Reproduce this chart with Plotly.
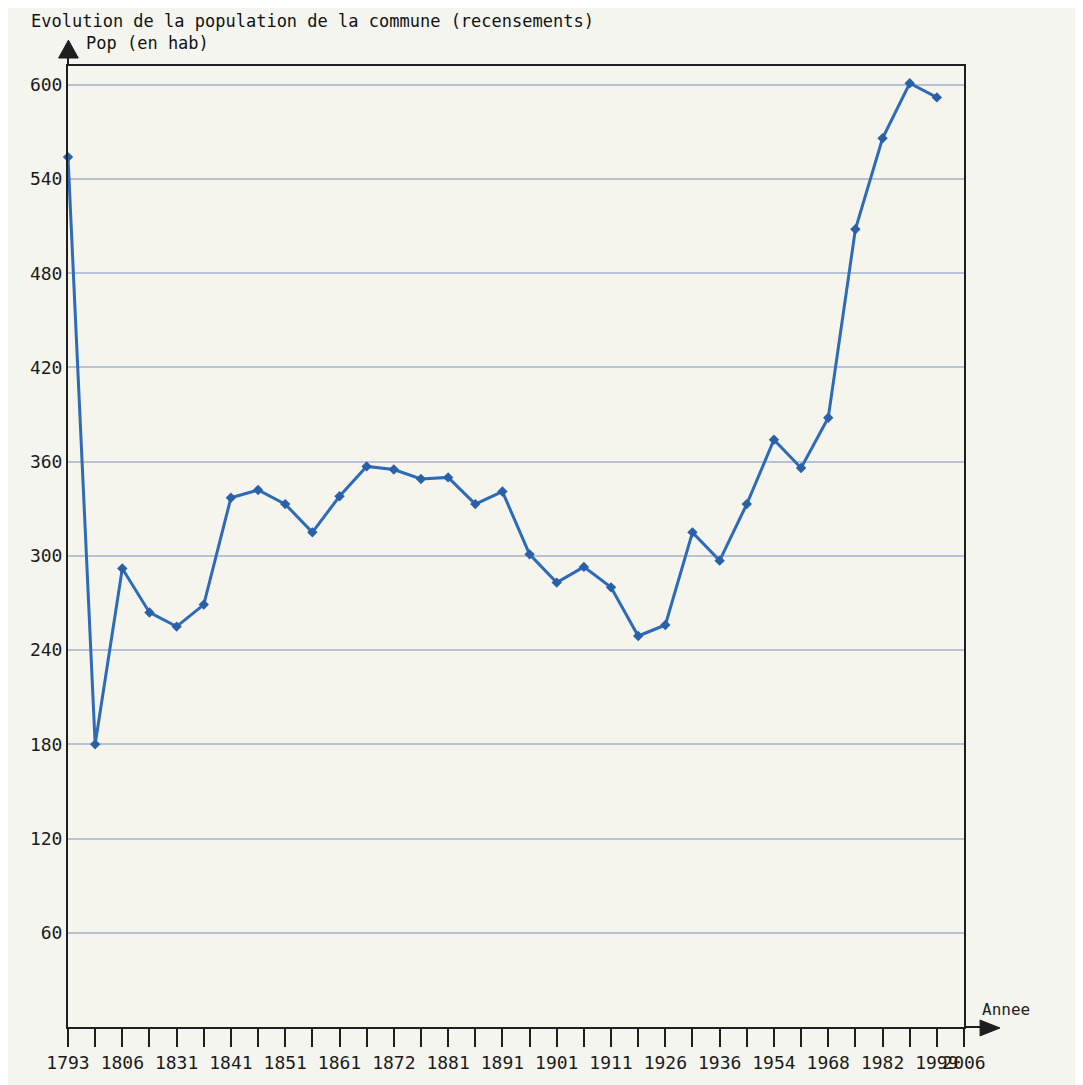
import plotly.graph_objects as go

years = ["1793", "1800", "1806", "1821", "1831", "1836", "1841", "1846", "1851", "1856",
         "1861", "1866", "1872", "1876", "1881", "1886", "1891", "1896", "1901", "1906",
         "1911", "1921", "1926", "1931", "1936", "1946", "1954", "1962", "1968", "1975",
         "1982", "1990", "1999", "2006"]
population = [554, 180, 292, 264, 255, 269, 337, 342, 333, 315,
              338, 357, 355, 349, 350, 333, 341, 301, 283, 293,
              280, 249, 256, 315, 297, 333, 374, 356, 388, 508,
              566, 601, 592, None]
y_ticks = [60, 120, 180, 240, 300, 360, 420, 480, 540, 600]

idx = list(range(len(years)))
ticktext = [y if (i % 2 == 0 or i == len(years) - 1) else "" for i, y in enumerate(years)]

FONT = "DejaVu Sans Mono"
AX = "#1e1e1e"
W, H = 1075, 1077  # page adds an 8px body margin

fig = go.Figure()
fig.add_trace(go.Scatter(
    x=idx, y=population, mode="lines+markers",
    line=dict(color="#2d6bb8", width=3),
    marker=dict(symbol="diamond", size=8, color="#2a60a8"),
    connectgaps=False, showlegend=False, cliponaxis=False,
))

fig.update_layout(
    width=W, height=H,
    margin=dict(l=60, r=119, t=58, b=52),
    paper_bgcolor="#F5F5EF", plot_bgcolor="#F5F5ED",
    font=dict(family=FONT, size=16, color="#222222"),
    title=dict(text="Evolution de la population de la commune (recensements)",
               xref="container", yref="container", x=23 / W, y=1 - 13 / H,
               xanchor="left", yanchor="middle",
               font=dict(family=FONT, size=17, color="#111111")),
)
fig.update_xaxes(
    range=[0, len(years) - 1], tickmode="array", tickvals=idx, ticktext=ticktext,
    ticks="outside", ticklen=18, tickwidth=2, tickcolor=AX,
    showline=True, linecolor=AX, linewidth=2, mirror=True,
    showgrid=False, zeroline=False, tickangle=0,
    tickfont=dict(family=FONT, size=18, color="#1a1a1a"),
)
fig.update_yaxes(
    range=[0, 612], tickmode="array", tickvals=y_ticks,
    ticks="", showline=True, linecolor=AX, linewidth=2, mirror=True,
    showgrid=True, gridcolor="#b9c2d2", gridwidth=2, zeroline=False,
    tickfont=dict(family=FONT, size=18, color="#1a1a1a"),
)

# axis extensions with arrowheads
fig.add_shape(type="line", xref="paper", yref="paper", x0=0, x1=0, y0=1, y1=1.01,
              line=dict(color=AX, width=2))
fig.add_shape(type="path", xref="paper", yref="paper",
              path="M -0.0105 1.0083 L 0.0115 1.0083 L 0.0005 1.0269 Z",
              fillcolor=AX, line=dict(color=AX, width=1))
fig.add_shape(type="line", xref="paper", yref="paper", x0=1, x1=1.02, y0=0, y1=0,
              line=dict(color=AX, width=2))
fig.add_shape(type="path", xref="paper", yref="paper",
              path="M 1.0179 0.0072 L 1.0179 -0.0093 L 1.0402 -0.001 Z",
              fillcolor=AX, line=dict(color=AX, width=1))

fig.add_annotation(text="Pop (en hab)", xref="paper", yref="paper",
                   x=(84 - 68) / 896, y=(1033 - 43) / 967, xanchor="left", yanchor="middle",
                   showarrow=False, font=dict(family=FONT, size=17, color="#111111"))
fig.add_annotation(text="Annee", xref="paper", yref="paper",
                   x=(1006 - 68) / 896, y=(1033 - 1015) / 967, xanchor="center", yanchor="middle",
                   showarrow=False, font=dict(family=FONT, size=16, color="#222222"))

fig.write_html("out.html")
